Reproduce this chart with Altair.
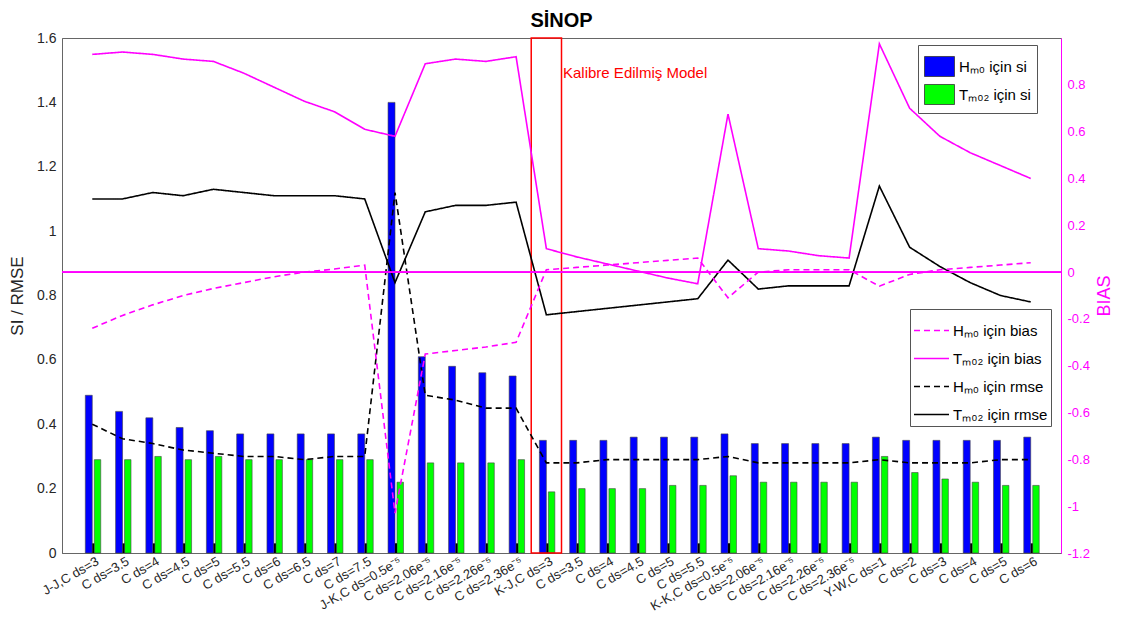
import json
import altair as alt
import pandas as pd

FONT = "Liberation Sans"

# ---------------- data ----------------
categories = [
    "J-J,C ds=3", "C ds=3.5", "C ds=4", "C ds=4.5", "C ds=5", "C ds=5.5",
    "C ds=6", "C ds=6.5", "C ds=7", "C ds=7.5",
    "J-K,C ds=0.5e⁻⁵", "C ds=2.06e⁻⁵", "C ds=2.16e⁻⁵", "C ds=2.26e⁻⁵", "C ds=2.36e⁻⁵",
    "K-J,C ds=3", "C ds=3.5", "C ds=4", "C ds=4.5", "C ds=5", "C ds=5.5",
    "K-K,C ds=0.5e⁻⁵", "C ds=2.06e⁻⁵", "C ds=2.16e⁻⁵", "C ds=2.26e⁻⁵", "C ds=2.36e⁻⁵",
    "Y-W,C ds=1", "C ds=2", "C ds=3", "C ds=4", "C ds=5", "C ds=6",
]

h_si = [0.49, 0.44, 0.42, 0.39, 0.38, 0.37, 0.37, 0.37, 0.37, 0.37,
        1.40, 0.61, 0.58, 0.56, 0.55,
        0.35, 0.35, 0.35, 0.36, 0.36, 0.36,
        0.37, 0.34, 0.34, 0.34, 0.34,
        0.36, 0.35, 0.35, 0.35, 0.35, 0.36]

t_si = [0.29, 0.29, 0.30, 0.29, 0.30, 0.29, 0.29, 0.29, 0.29, 0.29,
        0.22, 0.28, 0.28, 0.28, 0.29,
        0.19, 0.20, 0.20, 0.20, 0.21, 0.21,
        0.24, 0.22, 0.22, 0.22, 0.22,
        0.30, 0.25, 0.23, 0.22, 0.21, 0.21]

base_marks = [0.03] * 32

h_rmse = [0.40, 0.355, 0.34, 0.32, 0.31, 0.30, 0.30, 0.29, 0.30, 0.30,
          1.12, 0.49, 0.475, 0.45, 0.45,
          0.28, 0.28, 0.29, 0.29, 0.29, 0.29,
          0.30, 0.28, 0.28, 0.28, 0.28,
          0.29, 0.28, 0.28, 0.28, 0.29, 0.29]

t_rmse = [1.10, 1.10, 1.12, 1.11, 1.13, 1.12, 1.11, 1.11, 1.11, 1.10,
          0.84, 1.06, 1.08, 1.08, 1.09,
          0.74, 0.75, 0.76, 0.77, 0.78, 0.79,
          0.91, 0.82, 0.83, 0.83, 0.83,
          1.14, 0.95, 0.89, 0.84, 0.80, 0.78]

h_bias = [-0.24, -0.185, -0.14, -0.10, -0.07, -0.045, -0.02, 0.0, 0.013, 0.03,
          -1.03, -0.35, -0.335, -0.32, -0.30,
          0.01, 0.02, 0.03, 0.04, 0.05, 0.06,
          -0.11, 0.0, 0.01, 0.01, 0.01,
          -0.06, -0.01, 0.01, 0.02, 0.03, 0.04]

t_bias = [0.93, 0.94, 0.93, 0.91, 0.90, 0.85, 0.79, 0.73, 0.685, 0.61,
          0.58, 0.89, 0.91, 0.90, 0.92,
          0.10, 0.065, 0.035, 0.005, -0.025, -0.05,
          0.675, 0.10, 0.09, 0.07, 0.06,
          0.975, 0.70, 0.58, 0.51, 0.455, 0.40]

left_ticks = [0, 0.2, 0.4, 0.6, 0.8, 1.0, 1.2, 1.4, 1.6]
right_ticks = [-1.2, -1.0, -0.8, -0.6, -0.4, -0.2, 0, 0.2, 0.4, 0.6, 0.8]

calibrated_index = 16
annotation_text = "Kalibre Edilmiş Model"

H_SI = "Hₘ₀ için si"
T_SI = "Tₘ₀₂ için si"
H_BIAS = "Hₘ₀ için bias"
T_BIAS = "Tₘ₀₂ için bias"
H_RMSE = "Hₘ₀ için rmse"
T_RMSE = "Tₘ₀₂ için rmse"
line_names = [H_BIAS, T_BIAS, H_RMSE, T_RMSE]

# ---------------- tables ----------------
n = len(categories)
idx = list(range(1, n + 1))

bars_df = pd.DataFrame({
    "i": idx * 2,
    "series": [H_SI] * n + [T_SI] * n,
    "value": h_si + t_si,
})
base_df = pd.DataFrame({"i": idx, "value": base_marks})
rmse_df = pd.DataFrame({
    "i": idx * 2,
    "series": [H_RMSE] * n + [T_RMSE] * n,
    "value": h_rmse + t_rmse,
})
bias_df = pd.DataFrame({
    "i": idx * 2,
    "series": [H_BIAS] * n + [T_BIAS] * n,
    "value": h_bias + t_bias,
})
box_df = pd.DataFrame({"c": [calibrated_index], "top": [left_ticks[-1]]})
ann_df = pd.DataFrame({"c": [calibrated_index], "y": [1.49], "text": [annotation_text]})

# ---------------- scales / axes ----------------
xscale = alt.Scale(domain=[0, n + 1], nice=False, zero=False)
lscale = alt.Scale(domain=[0, 1.6], nice=False)
rscale = alt.Scale(domain=[-1.2, 1.0], nice=False)

label_expr = json.dumps(categories, ensure_ascii=False) + "[datum.value - 1]"
x_axis = alt.Axis(
    values=idx, labelExpr=label_expr, labelAngle=-30, labelAlign="right",
    labelBaseline="middle", labelFontSize=13, labelFont=FONT, labelColor="#262626",
    labelOverlap=False, labelBound=False, labelFlush=False, ticks=False, grid=False,
    domainColor="#666666", title=None, labelPadding=7, labelOffset=5,
)
left_axis = alt.Axis(
    orient="left", values=left_ticks, labelExpr="toString(round(datum.value*10)/10)",
    labelFontSize=14, labelFont=FONT, labelColor="#262626", ticks=False, grid=False,
    domainColor="#666666", title="SI / RMSE", titleFontSize=17, titleFont=FONT,
    titleFontWeight="normal", titleColor="#262626", titlePadding=10, labelPadding=6,
)
right_axis = alt.Axis(
    orient="right", values=right_ticks, labelExpr="toString(round(datum.value*10)/10)",
    labelFontSize=13, labelFont=FONT, labelColor="#FF00FF", ticks=False, grid=False,
    domainColor="#FF00FF", title="BIAS", titleFontSize=18, titleFont=FONT,
    titleFontWeight="normal", titleColor="#FF00FF", titleAngle=270,
    titleBaseline="top", titlePadding=6, labelPadding=6,
)

bar_legend = alt.Legend(
    title=None, orient="none", legendX=856, legendY=7, direction="vertical",
    fillColor="white", strokeColor="#555555", padding=6,
    symbolType="M-1,-0.667H1V0.667H-1Z", symbolSize=900,
    symbolStrokeColor="#333333", symbolStrokeWidth=0.8,
    labelFontSize=15, labelFont=FONT, labelColor="black", rowPadding=0, labelOffset=4,
)
line_legend = alt.Legend(
    title=None, orient="none", legendX=848, legendY=271, direction="vertical",
    fillColor="white", strokeColor="#555555", padding=3,
    symbolType="stroke", symbolSize=1225, symbolStrokeWidth=1.6,
    labelFontSize=15, labelFont=FONT, labelColor="black", rowPadding=1, labelOffset=3,
)

# ---------------- left (SI / RMSE) layer ----------------
bars = alt.Chart(bars_df).transform_calculate(
    x0=f"datum.series == '{H_SI}' ? datum.i - 0.23 : datum.i + 0.066",
    x1=f"datum.series == '{H_SI}' ? datum.i : datum.i + 0.28",
).mark_rect(stroke="#444444", strokeWidth=0.6).encode(
    x=alt.X("x0:Q", scale=xscale, axis=x_axis),
    x2="x1:Q",
    y=alt.Y("value:Q", scale=lscale, axis=left_axis),
    y2=alt.datum(0),
    fill=alt.Fill("series:N", scale=alt.Scale(domain=[H_SI, T_SI], range=["#0000FF", "#00FF00"]),
                  legend=bar_legend),
)

base = alt.Chart(base_df).transform_calculate(
    x0="datum.i", x1="datum.i + 0.066"
).mark_rect(fill="black").encode(
    x=alt.X("x0:Q", scale=xscale, axis=x_axis),
    x2="x1:Q",
    y=alt.Y("value:Q", scale=lscale, axis=left_axis),
    y2=alt.datum(0),
)

box = alt.Chart(box_df).transform_calculate(
    x0="datum.c - 0.5", x1="datum.c + 0.5"
).mark_rect(fillOpacity=0, stroke="#FF0000", strokeWidth=1.5).encode(
    x=alt.X("x0:Q", scale=xscale, axis=x_axis),
    x2="x1:Q",
    y=alt.Y("top:Q", scale=lscale, axis=left_axis),
    y2=alt.datum(0),
)

ann = alt.Chart(ann_df).transform_calculate(
    xa="datum.c + 0.55"
).mark_text(align="left", baseline="middle", color="#FF0000", fontSize=15, font=FONT).encode(
    x=alt.X("xa:Q", scale=xscale, axis=x_axis),
    y=alt.Y("y:Q", scale=lscale, axis=left_axis),
    text="text:N",
)

stroke_enc = alt.Stroke("series:N", scale=alt.Scale(domain=line_names,
                        range=["#FF00FF", "#FF00FF", "#000000", "#000000"]), legend=line_legend)
dash_enc = alt.StrokeDash("series:N", scale=alt.Scale(domain=line_names,
                          range=[[6, 4], [1, 0], [6, 4], [1, 0]]), legend=line_legend)

rmse_lines = alt.Chart(rmse_df).mark_line(strokeWidth=1.6).encode(
    x=alt.X("i:Q", scale=xscale, axis=x_axis),
    y=alt.Y("value:Q", scale=lscale, axis=left_axis),
    stroke=stroke_enc,
    strokeDash=dash_enc,
    detail="series:N",
)

left = alt.layer(bars, base, box, ann, rmse_lines)

# ---------------- right (BIAS) layer ----------------
bias_lines = alt.Chart(bias_df).mark_line(strokeWidth=1.6).encode(
    x=alt.X("i:Q", scale=xscale, axis=x_axis),
    y=alt.Y("value:Q", scale=rscale, axis=right_axis),
    stroke=stroke_enc,
    strokeDash=dash_enc,
    detail="series:N",
)
zero_rule = alt.Chart(bias_df).transform_filter("datum.i == 1").mark_rule(
    color="#FF00FF", strokeWidth=1.6
).encode(y=alt.Y(datum=0, type="quantitative", scale=rscale, axis=right_axis))

right = alt.layer(zero_rule, bias_lines)

chart = alt.layer(left, right).resolve_scale(y="independent").properties(
    width=999, height=515,
    title=alt.TitleParams("SİNOP", fontSize=20, fontWeight="bold", font=FONT, color="black",
                          anchor="middle", offset=0, frame="group"),
    autosize=alt.AutoSizeParams(type="none"),
    padding={"left": 54, "top": 30, "right": 54, "bottom": 62},
).configure_view(stroke="#666666", strokeWidth=1)

chart.save("out.html", embed_options={"renderer": "svg", "actions": False})
